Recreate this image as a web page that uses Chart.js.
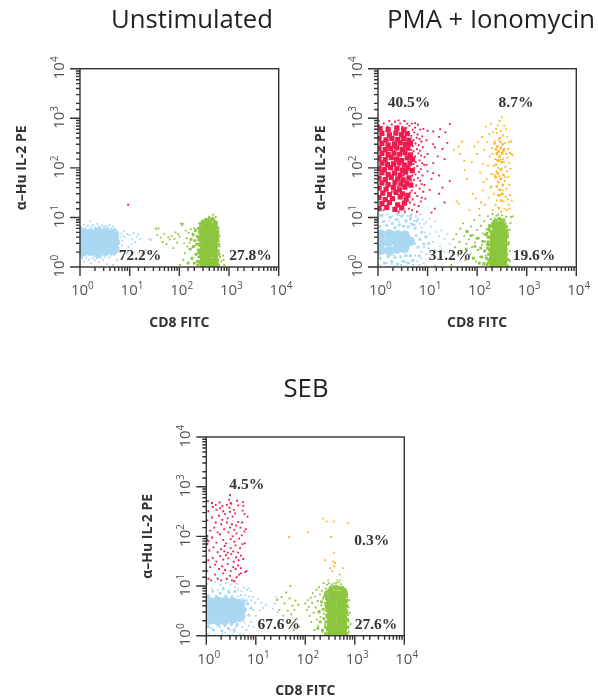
<!DOCTYPE html>
<html>
<head>
<meta charset="utf-8">
<script src="https://cdn.jsdelivr.net/npm/chart.js@4"></script>
<style>
    html, body { margin: 0; padding: 0; background: #fff; overflow: hidden; width: 598px; height: 699px; }
    canvas { position: absolute; }
</style>
</head>
<body>
<canvas id="unstim"></canvas>
<canvas id="pma"></canvas>
<canvas id="seb"></canvas>
<script>
const tickValues = [1, 10, 100, 1000, 10000];
const xTitle = "CD8 FITC";
const yTitle = "\u03B1\u2013Hu IL-2 PE";

const blue = "#aad8f3", green = "#8cc63f", red = "#ee1c4e", orange = "#fbb62b";

// Unstimulated
const unstimPercents = ["72.2%", "27.8%"];
const unstimBlueCore = [[1.1,2.1],[1.6,2.2],[2.3,2.0],[3.3,2.2],[4.6,2.3],[1.1,3.2],[1.6,3.1],[2.3,3.2],[3.3,3.3],[4.8,3.2],[1.1,4.7],[1.6,4.6],[2.3,4.8],[3.3,4.7],[4.6,4.4]];
const unstimBlueDots = [[1.05,6.4],[1.2,7.1],[1.3,6.2],[1.45,6.8],[1.6,8.3],[1.7,6.4],[1.85,7.0],[2.0,6.2],[2.2,7.4],[2.4,6.6],[2.6,6.3],[2.8,7.1],[3.0,6.4],[3.3,6.7],[3.6,6.2],[3.9,7.0],[4.2,6.1],[4.6,6.5],[5.0,6.0],[5.3,5.6],[1.1,1.5],[1.2,1.3],[1.35,1.55],[1.5,1.4],[1.65,1.2],[1.8,1.5],[2.0,1.35],[2.2,1.5],[2.4,1.25],[2.6,1.55],[2.9,1.4],[3.2,1.6],[3.5,1.15],[3.8,1.55],[4.2,1.7],[4.6,1.1],[4.9,1.75],[5.4,1.0],[5.2,2.0],[6.0,2.4],[6.3,3.0],[5.8,3.6],[6.4,4.0],[6.8,4.7],[5.9,5.0],[7.1,3.4],[7.5,4.2],[7.0,2.7],[7.8,5.3],[8.2,3.9],[9.0,4.6],[10,4.4],[11,3.6],[12,4.8],[13,3.2],[14,4.1],[15,4.6],[16,3.7],[9.5,2.5],[8.4,1.9],[11,2.9],[25,3.7],[27,3.5],[26,1.9],[21,2.2],[5.6,1.4],[1.02,1.7],[1.02,5.9],[1.0,2.6],[1.0,4.4]];
const unstimGreenCore = [[325,1.26],[470,1.24],[320,1.92],[470,1.95],[330,2.9],[465,2.9],[325,4.4],[470,4.4],[345,6.2],[450,6.3]];
const unstimGreenPatch = [[150,1.2],[165,2.3],[172,3.6],[180,1.5],[188,4.6],[195,2.6],[200,1.2],[205,3.4],[210,5.4],[215,1.8],[222,2.9],[228,4.2],[232,1.3],[238,6.0],[242,2.2],[246,3.5],[250,1.6],[254,5.0],[258,2.7],[262,1.2],[266,4.3],[270,3.1],[274,1.9],[278,5.7],[560,1.6],[570,2.6],[585,1.2],[600,3.4],[590,4.8],[610,2.1]];
const unstimGreenEdge = [[236,1.1],[244,1.9],[252,2.9],[240,4.0],[258,5.6],[264,6.4],[250,1.3],[262,3.8],[268,7.4],[255,2.1],[285,7.8],[300,8.4],[320,8.0],[345,9.1],[370,8.2],[395,9.4],[420,8.4],[445,8.8],[475,9.6],[500,8.3],[530,7.9],[556,7.2],[575,6.1],[596,5.2],[608,4.1],[585,3.7],[618,2.9],[600,1.4],[630,1.8],[610,1.05]];
const unstimGreenDots = [[34,5.9],[38,6.0],[36,4.4],[42,3.9],[46,3.2],[50,4.6],[55,2.9],[60,4.0],[64,3.6],[70,4.2],[76,2.4],[80,3.7],[84,5.0],[90,3.1],[95,4.6],[100,4.1],[104,1.1],[108,7.6],[112,6.9],[118,7.4],[120,1.4],[125,3.0],[130,1.9],[135,5.4],[140,3.8],[145,2.6],[155,4.9],[160,3.1],[170,5.8],[185,2.5],[190,4.3],[200,6.0],[250,7.6],[290,8.6],[300,7.3],[330,9.2],[350,7.9],[370,8.9],[400,10.3],[420,8.3],[450,9.5],[480,11.4],[510,9.0],[540,10.2],[570,8.1],[590,6.5],[620,6.0],[640,4.4],[650,2.6],[660,1.6],[700,1.3],[620,1.1],[780,1.4],[800,1.1],[760,1.7],[560,7.4],[385,7.8]];
const unstimRedDots = [[9.3,18]];

// PMA + Ionomycin
const pmaPercents = ["40.5%", "8.7%", "31.2%", "19.6%"];
const pmaRedCore = [[1.05,15],[1.5,16],[2.2,14.5],[3.0,15.5],[1.2,19],[1.7,20],[2.5,18],[3.4,19.5],[1.05,25],[1.4,23],[1.95,24],[2.8,26],[3.7,23],[1.25,31],[1.7,29],[2.3,32],[3.1,30],[4.0,28],[1.05,39],[1.45,37],[2.05,40],[2.7,36],[3.5,41],[1.2,50],[1.6,46],[2.2,51],[2.9,47],[3.8,49],[4.6,45],[1.05,62],[1.4,58],[1.85,64],[2.5,60],[3.2,57],[4.2,63],[1.2,80],[1.6,73],[2.15,78],[2.8,71],[3.6,82],[1.05,98],[1.35,92],[1.8,101],[2.4,96],[3.1,90],[4.0,99],[4.9,88],[1.2,125],[1.55,116],[2.05,120],[2.65,128],[3.4,114],[4.4,124],[1.05,155],[1.4,146],[1.85,160],[2.35,150],[3.0,142],[3.9,158],[5.0,148],[1.2,195],[1.6,184],[2.1,198],[2.7,188],[3.5,200],[4.5,182],[1.05,248],[1.4,232],[1.8,244],[2.4,252],[3.1,236],[4.0,250],[1.2,310],[1.6,292],[2.15,305],[2.8,318],[3.6,296],[4.5,312],[1.05,390],[1.45,368],[1.9,395],[2.5,372],[3.3,388],[4.2,362],[1.2,495],[1.7,462],[2.3,500],[3.0,470],[3.9,490],[1.1,620],[1.6,590],[2.4,630],[3.3,585]];
const pmaRedDots = [[4.9,14],[5.4,18],[6.1,13],[5.0,23],[6.6,17],[7.3,21],[5.6,31],[6.2,27],[7.7,25],[4.8,35],[6.9,38],[5.9,44],[7.6,47],[8.2,33],[5.3,57],[6.4,62],[7.1,55],[5.7,74],[6.7,83],[7.9,70],[5.4,100],[6.2,108],[7.3,94],[8.5,115],[5.8,130],[6.9,142],[7.8,125],[8.7,165],[5.6,170],[6.5,196],[7.4,176],[5.2,215],[6.1,238],[7.0,222],[8.0,260],[5.0,275],[5.7,310],[6.6,286],[7.5,340],[5.2,360],[6.0,405],[6.9,385],[7.8,430],[4.7,440],[5.4,520],[6.3,470],[7.1,590],[5.0,590],[3.7,640],[4.3,700],[5.6,650],[6.4,740],[4.8,780],[1.05,720],[1.3,790],[1.55,680],[1.9,750],[2.2,850],[2.5,700],[2.8,790],[3.1,670],[3.4,880],[3.9,780],[1.03,880],[1.7,880],[2.6,910],[5.6,800],[1.3,14],[2.6,13],[3.5,13],[4.2,15],[4.4,20],[4.5,32],[4.9,70],[4.7,55],[5.2,120],[4.7,230],[1.9,33],[2.5,42],[3.3,70],[1.5,105],[2.7,110],[3.3,210],[2.1,260],[1.3,340]];
const pmaRedSparse = [[8.2,610],[10,560],[13,540],[18,600],[23,520],[28,760],[17,420],[9.5,360],[13,300],[14,260],[20,240],[25,320],[10,190],[16,170],[22,150],[13,125],[9.5,115],[10,85],[13,78],[17,70],[12,60],[20,40],[28,54],[17,30],[22,20],[12,12.5],[14,15],[9,24],[11,36],[8.6,45]];
const pmaOrangeCore = [[225,310],[255,270],[290,340],[325,300],[240,235],[270,215],[300,255],[340,225],[250,190],[285,170],[320,195],[265,140],[310,130],[240,115],[300,95],[235,65],[265,52],[300,60],[330,45],[250,42],[285,36],[320,30],[270,28],[305,22],[260,78],[340,72]];
const pmaOrangeDots = [[34,230],[42,270],[45,190],[39,21],[43,19],[50,340],[55,140],[56,90],[62,60],[70,14],[78,130],[82,30],[88,270],[95,24],[100,190],[105,330],[110,15],[115,80],[120,20],[125,420],[130,120],[130,35],[135,52],[140,230],[145,18],[150,680],[155,60],[160,330],[165,110],[170,25],[175,480],[180,170],[185,40],[190,780],[195,75],[200,250],[205,14],[210,520],[215,110],[220,30],[225,340],[230,150],[235,18],[240,610],[245,85],[250,22],[255,200],[260,720],[265,100],[270,16],[275,390],[280,68],[285,880],[290,28],[295,145],[300,560],[305,13],[310,90],[315,1050],[320,205],[325,35],[330,450],[335,72],[340,21],[345,130],[350,700],[355,15],[360,55],[365,320],[370,105],[375,26],[380,190],[385,600],[390,38],[395,14],[400,85],[405,420],[410,160],[415,23],[420,240],[425,65],[430,330],[435,18],[440,125],[445,45],[450,15],[455,200],[460,28],[470,95],[480,340],[490,190],[500,22],[515,180],[250,500],[290,400],[350,240],[205,190],[225,72],[195,42],[250,145],[275,15],[330,150],[370,65]];
const pmaBlueCore = [[1.15,2.2],[1.7,2.1],[2.4,2.3],[3.4,2.4],[1.1,3.2],[1.6,3.2],[2.3,3.3],[3.2,3.2],[4.4,3.3],[1.15,4.5],[1.7,4.6],[2.5,4.4],[3.5,4.3]];
const pmaBluePatch = [[1.08,6.5],[1.3,8.2],[1.5,6.9],[1.75,10],[1.95,7.5],[2.2,6.2],[2.45,9],[2.7,7],[3.0,10.5],[3.3,6.6],[3.7,8.4],[4.1,6.4],[4.5,9.6],[5.0,7.2],[5.6,6],[6.1,8.5],[1.1,1.5],[1.35,1.2],[1.6,1.6],[1.9,1.3],[2.2,1.55],[2.5,1.15],[2.85,1.6],[3.2,1.3],[3.6,1.7],[4.0,1.2],[4.5,1.7],[5,1.35],[5.4,3],[5.9,4.3],[6.4,2.5],[7,3.6],[7.6,5],[8.4,2.9],[9.2,4.1],[10.5,3],[6.8,1.7],[1.2,11],[2.6,11.5],[4.6,11]];
const pmaBlueDots = [[1.1,11],[1.5,11.5],[1.7,8.5],[1.9,10.5],[2.2,9],[2.4,11.8],[2.7,8],[3.3,11.6],[3.6,8.8],[4,10.7],[4.4,9.2],[4.8,11.5],[5.3,8.5],[5.8,10.6],[6.4,9.5],[7.2,11.4],[8,9],[4,6.3],[4.5,7.6],[5.5,7],[6.9,7.5],[7.7,6.2],[8.5,7.4],[9.5,8],[11,9.5],[12,6.5],[14,8.3],[8.8,5],[9.5,3.9],[11,4.6],[13,3.2],[15,5.1],[17,4.2],[19,5.5],[22,3.7],[25,4.6],[28,2.9],[7.6,2],[8.5,2.5],[9.4,1.8],[10.5,2.4],[12,1.7],[14,2.2],[16,1.5],[18,2.6],[22,2],[1.05,1.7],[1.5,1.2],[1.9,1.15],[2.1,1.7],[2.9,1.1],[3.5,1.25],[3.8,1.7],[4.2,1.2],[5.1,1.1],[5.6,1.7],[6.2,1.3],[6.8,1.1],[7.5,1.5],[8.3,1.2],[14,1.05],[1.02,1.1],[1.15,1.05],[1.6,1.02],[2.2,1.05],[3.6,1.05]];
const pmaGreenCore = [[222,1.25],[322,1.26],[222,1.92],[322,1.95],[225,2.9],[320,2.9],[230,4.4],[318,4.4],[250,5.9],[300,6.1]];
const pmaGreenPatch = [[110,1.2],[118,2.4],[124,1.6],[130,3.3],[136,1.15],[142,2.1],[148,4.5],[154,1.5],[160,2.9],[165,1.2],[170,3.9],[175,2.2],[180,5.4],[185,1.5],[188,3],[192,4.2],[195,2.1],[198,1.2],[90,2.6],[75,4.3],[60,2.3],[62,5.2],[84,1.5],[100,3.8],[360,1.6],[372,3.3],[380,2.2],[375,5],[365,1.2],[360,6.5]];
const pmaGreenEdge = [[158,1.1],[162,2.4],[166,3.2],[158,4.8],[172,1.4],[170,1.8],[168,2.8],[172,5.9],[165,4.1],[178,6.8],[195,6.6],[205,7.6],[218,8.4],[230,7.4],[245,8.8],[260,7.6],[275,9.4],[290,8],[305,9.1],[325,7.9],[345,8.6],[365,7.1],[390,6.4],[405,5.5],[398,3.9],[418,2.9],[395,1.8],[425,1.4],[400,1.05],[412,4.3]];
const pmaGreenDots = [[30,1.1],[33,3.6],[36,2.5],[38,4.6],[41,1.7],[44,3.2],[46,5.9],[49,2.1],[52,7.6],[55,4.2],[58,1.4],[61,2.9],[65,5.3],[68,3.6],[72,1.8],[75,6.6],[79,2.5],[83,4.4],[87,8.8],[91,3.1],[95,1.3],[100,5.6],[104,2.2],[108,3.8],[112,11],[116,1.6],[120,6.8],[125,2.8],[130,4.7],[135,1.2],[140,8.4],[145,3.3],[150,1.7],[155,5.7],[160,2.4],[165,10.6],[170,3.9],[175,1.3],[180,7.1],[185,5],[190,9.2],[195,1.1],[200,6.4],[205,11.6],[215,7.8],[225,9.6],[235,8],[245,10.8],[255,8.3],[265,11.4],[275,7.4],[285,9.8],[295,8.6],[305,8.8],[320,11],[335,7.8],[350,9.3],[370,7.7],[385,10.3],[405,6.4],[420,4.8],[435,3.2],[450,2.1],[460,1.3],[430,1.05],[455,5.6],[470,7.7],[490,10.2],[520,10.5]];

// SEB
const sebPercents = ["4.5%", "0.3%", "67.6%", "27.6%"];
const sebRedCore = [[1.03,70],[1.03,85],[1.03,100]];
const sebRedDots = [[1.1,14],[1.25,13],[1.5,17],[1.7,14],[2.0,13],[2.2,18],[2.6,14],[3,16],[3.3,13],[3.7,12.5],[4.1,15],[4.6,17],[5.0,18],[6.1,19],[6.5,20],[1.05,20],[1.2,24],[1.5,27],[1.8,22],[2.1,25],[2.4,21],[2.7,28],[3.1,20],[3.5,24],[3.9,22],[4.4,26],[5,23],[1.1,33],[1.35,37],[1.6,31],[1.9,40],[2.2,34],[2.5,42],[2.8,36],[3.2,44],[3.6,31],[4,38],[4.5,33],[5,41],[5.6,35],[1.15,52],[1.4,60],[1.7,48],[2,55],[2.3,50],[2.35,64],[2.7,47],[3.1,58],[3.5,50],[3.9,66],[4.4,47],[4.8,58],[5.4,70],[6,72],[1.1,80],[1.3,95],[1.6,75],[1.9,110],[2.2,85],[2.5,72],[2.8,120],[3.1,88],[3.4,100],[3.7,78],[4.1,115],[4.6,90],[5.2,105],[5.9,125],[6.3,140],[1.2,130],[1.45,150],[1.7,120],[2,175],[2.3,140],[2.6,190],[3,150],[3.3,175],[3.7,135],[4,165],[4.4,195],[4.9,150],[5.3,190],[1.05,210],[1.3,240],[1.55,190],[1.8,260],[2.1,215],[2.4,280],[2.7,230],[3,310],[3.4,250],[3.8,290],[1.1,320],[1.35,390],[1.6,340],[1.9,370],[2.2,320],[2.6,430],[2.95,380],[3.2,450],[3.6,340],[4.4,420],[5.4,330],[5.9,280],[6.8,250],[1.08,510],[1.3,470],[1.55,430],[1.85,480],[2.1,410],[2.9,550],[3.1,470],[4.2,520],[5.5,490],[5.6,410],[3.0,680]];
const sebOrangeDots = [[230,227],[269,200],[384,200],[736,185],[47,97],[115,120],[333,97],[378,47],[366,31],[252,33],[314,23],[384,25],[584,23],[500,17],[290,13],[441,13],[500,13],[400,29],[350,20]];
const sebBlueCore = [[1.15,2.2],[1.7,2.15],[2.4,2.2],[3.4,2.3],[4.7,2.5],[1.1,3.2],[1.6,3.2],[2.3,3.3],[3.3,3.2],[4.8,3.3],[1.15,4.6],[1.7,4.7],[2.4,4.6],[3.4,4.5],[4.6,4.2]];
const sebBluePatch = [[1.1,6.4],[1.35,7.8],[1.6,6.2],[1.9,7.2],[2.2,8.8],[2.5,6.3],[2.9,7.5],[3.3,6.1],[3.8,7.8],[1.1,1.5],[1.4,1.3],[1.75,1.6],[2.05,1.25],[2.4,1.6],[2.8,1.4],[3.2,1.7],[3.7,1.3],[4.2,1.65],[5.5,2.4],[6.2,3.4],[5.9,5],[6.8,4.4],[7.2,2.6],[8,3.6]];
const sebBlueDots = [[1.05,11],[1.3,9],[1.5,12],[1.7,8.3],[1.9,10.5],[2.2,9.2],[2.5,11.6],[2.8,8.2],[3.1,10.8],[3.5,12.5],[3.8,9.4],[4.1,11],[4.4,8.6],[5.1,7.8],[5.7,9.3],[6.6,8.4],[7.2,9],[8,7.9],[4.4,6.2],[5,6.6],[5.5,5.6],[6.1,6.5],[6.6,5.2],[7.2,6.1],[8,5.2],[8.8,6],[9.6,4.6],[11,5.4],[13,4.6],[14,3.6],[12,3.2],[16,4.2],[9,3.3],[10,2.5],[26,6],[27,5.2],[24,4.4],[22,3.5],[28,3],[1.05,1.6],[1.25,1.4],[1.9,1.5],[2.15,1.7],[2.4,1.15],[3,1.3],[3.3,1.7],[3.6,1.2],[4,1.5],[4.4,1.75],[4.8,1.1],[5.3,1.5],[5.9,1.85],[6.5,1.3],[7.2,1.6],[1.1,1.1],[1.55,1.03],[2.1,1.1],[2.8,1.03],[3.4,1.05],[5.6,1.05],[8,1.9],[9,1.5],[13,1.6]];
const sebGreenCore = [[347,1.25],[550,1.25],[345,1.9],[550,1.95],[350,2.9],[545,2.9],[345,4.4],[550,4.4],[365,6.4],[525,6.4]];
const sebGreenPatch = [[180,1.4],[190,3],[200,1.9],[212,4.8],[222,1.3],[230,3.4],[238,2.2],[246,6.2],[254,1.5],[262,3.9],[270,2.6],[278,5.2],[285,1.3],[292,3],[298,7.2],[304,4.2],[310,2],[316,1.3],[320,5.5],[285,8],[660,1.5],[675,3.2],[690,2.1],[670,5],[680,7],[640,8.4]];
const sebGreenEdge = [[255,1.1],[262,1.9],[270,3.2],[258,4.5],[275,1.4],[280,2.4],[268,5.6],[285,3.7],[275,6.4],[262,7.4],[290,7.9],[310,8.4],[330,9.3],[350,8.5],[375,9.7],[400,8.6],[425,9.9],[450,8.8],[480,9.5],[510,8.7],[540,9.3],[570,8.4],[605,7.8],[640,6.8],[665,6.2],[690,5.2],[705,4],[700,2.9],[715,2.1],[695,1.1],[725,1.5]];
const sebGreenDots = [[27,5.3],[30,3.3],[33,6],[36,2.5],[38,4.5],[41,7.4],[44,3.2],[46,1.8],[48,5.6],[50,10],[52,2.7],[55,4],[58,1.3],[60,3.3],[63,5.1],[68,2.2],[72,4.2],[76,1.5],[100,4.5],[108,3.3],[112,5.2],[118,3.8],[122,2.5],[128,5.8],[132,1.9],[138,4.6],[142,7.2],[148,2.9],[152,1.3],[158,6.2],[162,3.7],[168,8.4],[172,2.1],[178,5],[182,1.6],[188,9.5],[192,3.1],[198,6.8],[203,2.4],[210,4.1],[216,8],[222,1.2],[228,5.6],[234,11.5],[240,2.8],[246,7],[252,1.7],[258,9],[264,3.5],[270,6.5],[276,10.7],[284,2.2],[292,8.2],[300,11.3],[310,9.6],[325,8.4],[340,10.6],[355,9],[375,11.2],[395,9.4],[420,11.6],[445,9.6],[470,11.8],[500,9.2],[530,10.8],[560,8.9],[590,9.6],[630,8.6],[680,7.8],[700,6],[710,4.8],[740,3.7],[725,2.6],[745,1.9],[710,1.4],[760,1.2],[770,5.2],[690,3.1],[820,1.7],[790,2.9]];

const dot = 1.3, patch = 2, knot = 1.8, fill = 3.7, block = 7;

const panels = [
    { id: "unstim", title: "Unstimulated", left: 0, top: 0, width: 384, height: 340, area: [80, 69, 278.7, 267], yTitleAt: 14, titlePad: [8, 35], xTitleAt: 9,
      percents: unstimPercents, spots: [[60, 191], [170.5, 191]],
      sets: [[unstimRedDots, red, dot], [unstimGreenDots, green, dot], [unstimBlueDots, blue, dot], [unstimGreenPatch, green, patch], [unstimGreenEdge, green, patch], [unstimGreenCore, green, block], [unstimBlueCore, blue, 6, "circle"]] },
    { id: "pma", title: "PMA + Ionomycin", left: 300, top: 0, width: 382, height: 340, area: [378, 69, 576.3, 267], yTitleAt: 12.5, titlePad: [8, 35], xTitleAt: 9,
      percents: pmaPercents, spots: [[31, 38], [138, 38], [72, 191], [156, 191]],
      sets: [[pmaRedDots, red, dot], [pmaRedSparse, red, dot], [pmaOrangeDots, orange, dot], [pmaGreenDots, green, dot], [pmaBlueDots, blue, dot], [pmaOrangeCore, orange, knot], [pmaRedCore, red, fill], [pmaGreenPatch, green, patch], [pmaGreenEdge, green, patch], [pmaBluePatch, blue, patch], [pmaGreenCore, green, block], [pmaBlueCore, blue, 5, "circle"]] },
    { id: "seb", title: "SEB", left: 130, top: 370, width: 352, height: 329, area: [206.3, 437.3, 404.3, 635.7], yTitleAt: 10, titlePad: [7, 34.3], xTitleAt: 0,
      percents: sebPercents, spots: [[40.4, 51.7], [165.4, 107.7], [72.4, 191.7], [169.7, 191.7]],
      sets: [[sebRedDots, red, dot], [sebRedCore, red, knot], [sebOrangeDots, orange, dot], [sebGreenDots, green, dot], [sebBlueDots, blue, dot], [sebGreenPatch, green, patch], [sebGreenEdge, green, patch], [sebBluePatch, blue, patch], [sebGreenCore, green, block], [sebBlueCore, blue, 6, "circle"]] }
];

function isPower(v) {
    return tickValues.indexOf(v) >= 0;
}

// "10" with a small raised exponent, on the rotated axis too
function drawPowerLabel(c, value, x, y, rotated) {
    c.save();
    c.translate(x, y);
    if (rotated) c.rotate(-Math.PI / 2);
    c.fillStyle = "#555";
    c.textBaseline = "alphabetic";
    c.textAlign = "left";
    c.font = "15px 'Open Sans'";
    const w = c.measureText("10").width;
    c.fillText("10", -w / 2 - 3, 0);
    c.font = "10px 'Open Sans'";
    c.fillText(String(Math.log10(value)), w / 2 - 3, -6);
    c.restore();
}

const frameAndLabels = {
    id: "frameAndLabels",
    afterDatasetsDraw(chart, args, opts) {
        const c = chart.ctx, a = chart.chartArea;
        c.save();
        c.strokeStyle = "#333";
        c.lineWidth = 1.4;
        c.strokeRect(a.left, a.top, a.right - a.left, a.bottom - a.top);
        c.beginPath();
        chart.scales.x.ticks.forEach(t => {
            const px = chart.scales.x.getPixelForValue(t.value);
            c.moveTo(px, a.bottom);
            c.lineTo(px, a.bottom + (isPower(t.value) ? 9 : 4));
        });
        chart.scales.y.ticks.forEach(t => {
            const py = chart.scales.y.getPixelForValue(t.value);
            c.moveTo(a.left, py);
            c.lineTo(a.left - (isPower(t.value) ? 10 : 4), py);
        });
        c.stroke();
        tickValues.forEach(v => {
            drawPowerLabel(c, v, chart.scales.x.getPixelForValue(v) + 2.5, a.bottom + 28, false);
            drawPowerLabel(c, v, a.left - 16, chart.scales.y.getPixelForValue(v) - 1, true);
        });
        c.fillStyle = "#333";
        c.font = "bold 15.5px 'Liberation Serif'";
        c.textAlign = "center";
        c.textBaseline = "alphabetic";
        opts.percents.forEach((txt, i) => {
            c.fillText(txt, a.left + opts.spots[i][0], a.top + opts.spots[i][1]);
        });
        c.restore();
    }
};

panels.forEach(function(p) {
    const canvas = document.getElementById(p.id);
    canvas.width = p.width;
    canvas.height = p.height;
    canvas.style.left = p.left + "px";
    canvas.style.top = p.top + "px";

    new Chart(canvas.getContext("2d"), {
        type: "scatter",
        data: {
            datasets: p.sets.map(s => ({
                data: s[0].map(pt => ({ x: pt[0], y: pt[1] })),
                backgroundColor: s[1],
                pointStyle: s[3] || "rect",
                pointRadius: s[2],
                borderWidth: 0
            }))
        },
        plugins: [frameAndLabels],
        options: {
            responsive: false,
            animation: false,
            plugins: {
                legend: { display: false },
                tooltip: { enabled: false },
                title: {
                    display: true,
                    text: p.title,
                    color: "#231f20",
                    font: { family: "'Open Sans'", size: 25.7, weight: "normal", lineHeight: 1 },
                    padding: { top: p.titlePad[0], bottom: p.titlePad[1] }
                },
                frameAndLabels: { percents: p.percents, spots: p.spots }
            },
            scales: {
                x: {
                    type: "logarithmic",
                    min: 1,
                    max: 10000,
                    afterFit(scale) { scale.height = p.height - (p.area[3] - p.top); },
                    grid: { display: false },
                    border: { display: false },
                    ticks: { display: false, autoSkip: false },
                    title: {
                        display: true,
                        text: xTitle,
                        color: "#333",
                        font: { family: "'Open Sans'", size: 14, weight: "bold" },
                        padding: { top: 0, bottom: p.xTitleAt }
                    }
                },
                y: {
                    type: "logarithmic",
                    min: 1,
                    max: 10000,
                    afterFit(scale) { scale.width = p.area[0] - p.left; },
                    grid: { display: false },
                    border: { display: false },
                    ticks: { display: false, autoSkip: false },
                    title: {
                        display: true,
                        text: yTitle,
                        color: "#333",
                        font: { family: "'Open Sans'", size: 14, weight: "bold" },
                        padding: { top: p.yTitleAt, bottom: 0 }
                    }
                },
                // empty axis on the right, keeps the plot left of the centred title
                spacer: {
                    type: "linear",
                    position: "right",
                    afterFit(scale) { scale.width = p.left + p.width - p.area[2]; },
                    grid: { display: false },
                    border: { display: false },
                    ticks: { display: false }
                }
            }
        }
    });
});
</script>
</body>
</html>
